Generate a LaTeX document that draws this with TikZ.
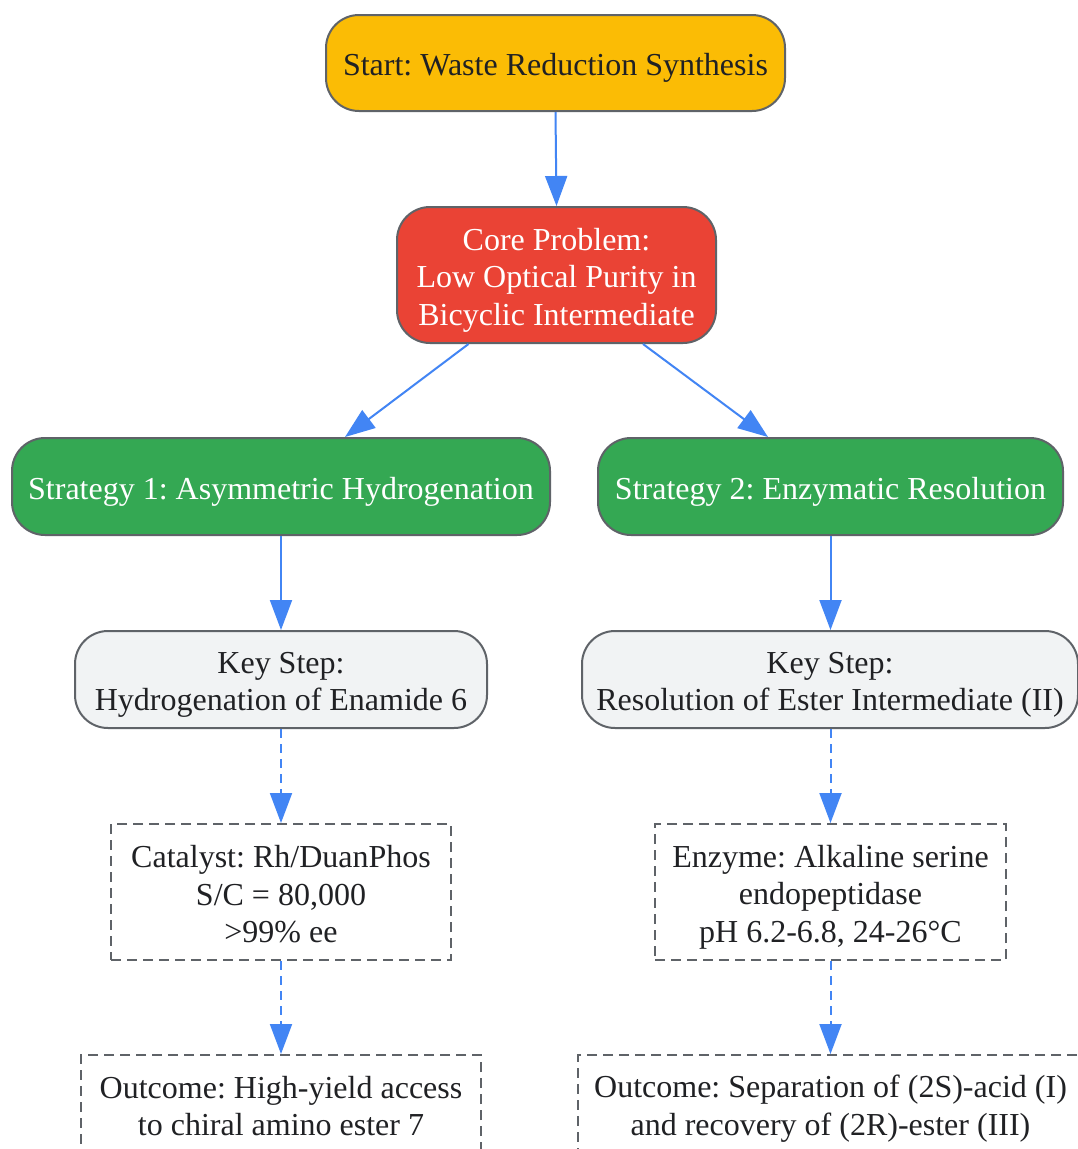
\documentclass[tikz,border=0pt]{standalone}
\usepackage{fontspec}
\setmainfont{Liberation Serif}
\usetikzlibrary{arrows.meta}
\definecolor{cyellow}{HTML}{FBBC05}
\definecolor{cred}{HTML}{EA4335}
\definecolor{cgreen}{HTML}{34A853}
\definecolor{cgrey}{HTML}{F1F3F4}
\definecolor{cborder}{HTML}{5F6368}
\definecolor{cblue}{HTML}{4285F4}
\definecolor{ctext}{HTML}{202124}
\newcommand\rstrut{\rule{0pt}{32pt}}
\newcommand\dstrut{\rule{0pt}{27pt}}
\newcommand\estrut{\rule{0pt}{32pt}}
\newcommand\ostrut{\rule{0pt}{33pt}}
\tikzset{
  base/.style={draw=cborder, line width=2pt, align=center, inner sep=0pt,
    font=\fontsize{32}{37.5}\selectfont\frenchspacing, text=ctext},
  single/.style={execute at begin node={\rule{0pt}{32pt}}},
  roundbox/.style={base, rounded corners=33pt},
  dashbox/.style={base, fill=white, dash pattern=on 10pt off 6pt},
  link/.style={draw=cblue, line width=2pt, -{Triangle[length=30pt,width=22pt]}},
  dlink/.style={link, dash pattern=on 9pt off 6pt},
}
\begin{document}
\begin{tikzpicture}[x=1pt,y=-1pt]
\clip (0,0) rectangle (1078,1149);
\fill[white] (0,0) rectangle (1078,1149);

\node[roundbox, single, fill=cyellow, minimum width=459pt, minimum height=96pt] (start) at (555.5,63)
  {Start: Waste Reduction Synthesis};
\node[roundbox, fill=cred, text=white, minimum width=319pt, minimum height=136pt] (core) at (556.5,275)
  {\rstrut Core Problem:\\Low Optical Purity in\\Bicyclic Intermediate};
\node[roundbox, single, fill=cgreen, text=white, minimum width=538pt, minimum height=97pt] (s1) at (281,486.5)
  {Strategy 1: Asymmetric Hydrogenation};
\node[roundbox, single, fill=cgreen, text=white, minimum width=465pt, minimum height=97pt] (s2) at (830.5,486.5)
  {Strategy 2: Enzymatic Resolution};
\node[roundbox, fill=cgrey, minimum width=412pt, minimum height=97pt] (k1) at (281,679.5)
  {\rstrut Key Step:\\Hydrogenation of Enamide 6};
\node[roundbox, fill=cgrey, minimum width=496pt, minimum height=97pt] (k2) at (830,679.5)
  {\rstrut Key Step:\\Resolution of Ester Intermediate (II)};
\node[dashbox, minimum width=340pt, minimum height=136pt] (c1) at (281,892)
  {\dstrut Catalyst: Rh/DuanPhos\\S/C = 80,000\\>99\% ee};
\node[dashbox, minimum width=351pt, minimum height=136pt] (c2) at (830.5,892)
  {\estrut Enzyme: Alkaline serine\\endopeptidase\\pH 6.2-6.8, 24-26°C};
\node[dashbox, minimum width=400pt, minimum height=97pt] (o1) at (281,1103.5)
  {\dstrut Outcome: High-yield access\\to chiral amino ester 7};
\node[dashbox, minimum width=505pt, minimum height=97pt] (o2) at (830.5,1103.5)
  {\ostrut Outcome: Separation of (2S)-acid (I)\\and recovery of (2R)-ester (III)};

\draw[link] (start.south) -- (core.north);
\draw[link] ([xshift=-88pt]core.south) -- ([xshift=64pt]s1.north);
\draw[link] ([xshift=86.5pt]core.south) -- ([xshift=-62.5pt]s2.north);
\draw[link] (s1.south) -- (k1.north);
\draw[link] (s2.south) -- (k2.north -| s2.south);
\draw[dlink] (k1.south) -- (c1.north);
\draw[dlink] (k2.south -| c2.north) -- (c2.north);
\draw[dlink] (c1.south) -- (o1.north);
\draw[dlink] (c2.south) -- (o2.north);
\end{tikzpicture}
\end{document}
